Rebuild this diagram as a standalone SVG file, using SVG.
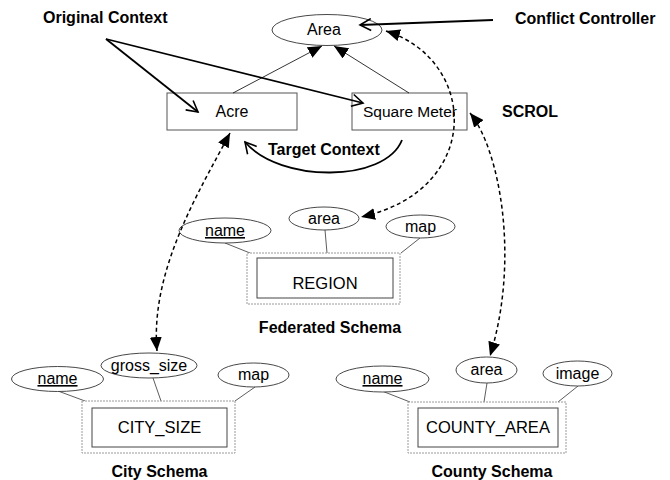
<svg xmlns="http://www.w3.org/2000/svg" width="670" height="480" viewBox="0 0 670 480">
<style>
text{font-family:"Liberation Sans",Arial,sans-serif;fill:#000}
.lbl{font-size:16px;font-weight:bold}
.n{font-size:16px;text-anchor:middle}
.ent{font-size:16.5px;text-anchor:middle}
.u{text-decoration:underline}
.ell{fill:#fff;stroke:#333;stroke-width:0.9}
.box{fill:#fff;stroke:#555;stroke-width:1}
.outer{fill:#fff;stroke:#9a9a9a;stroke-width:1;stroke-dasharray:2,1}
.inner{fill:#fff;stroke:#444;stroke-width:1}
.att{stroke:#333;stroke-width:0.8;fill:none}
.isa{stroke:#000;stroke-width:0.8;fill:none;marker-end:url(#fill)}
.ctx{stroke:#000;stroke-width:1.8;fill:none;marker-end:url(#open)}
.dash{stroke:#000;stroke-width:1.5;fill:none;stroke-dasharray:4,3;marker-start:url(#fill);marker-end:url(#fill)}
</style>
<defs>
<marker id="fill" markerUnits="userSpaceOnUse" markerWidth="14" markerHeight="12" viewBox="0 0 14 12" refX="14" refY="6" orient="auto-start-reverse">
<path d="M0,0 L14,6 L0,12 z" fill="#000"/>
</marker>
<marker id="open" markerUnits="userSpaceOnUse" markerWidth="14" markerHeight="14" viewBox="0 0 14 14" refX="12" refY="7" orient="auto">
<path d="M1,1 L12,7 L1,13" fill="none" stroke="#000" stroke-width="1.6"/>
</marker>
</defs>

<g id="area">
<ellipse class="ell" cx="327" cy="30" rx="55" ry="15.5"/>
<text class="n" x="324" y="35">Area</text>
</g>
<g id="acre">
<rect class="box" x="167" y="93" width="130" height="37"/>
<text class="n" x="232" y="117">Acre</text>
</g>
<g id="square-meter">
<rect class="box" x="352" y="93" width="115" height="37"/>
<text class="n" x="410" y="117" style="font-size:15.5px">Square Meter</text>
</g>

<g id="region">
<line class="att" x1="225" y1="243" x2="250" y2="253"/>
<line class="att" x1="325" y1="230" x2="327" y2="253"/>
<line class="att" x1="420" y1="238" x2="401" y2="253"/>
<rect class="outer" x="247" y="253" width="153" height="51"/>
<rect class="inner" x="257" y="258" width="136" height="40"/>
<text class="ent" x="325" y="289">REGION</text>
<ellipse class="ell" cx="225" cy="230.5" rx="46" ry="12.5"/>
<text class="n u" x="225" y="236">name</text>
<ellipse class="ell" cx="324" cy="218.5" rx="35" ry="11.5"/>
<text class="n" x="324" y="224">area</text>
<ellipse class="ell" cx="420.5" cy="226.5" rx="34.5" ry="11.5"/>
<text class="n" x="420.5" y="232">map</text>
</g>

<g id="city-size">
<line class="att" x1="58" y1="391" x2="85" y2="401"/>
<line class="att" x1="153" y1="378" x2="161" y2="401"/>
<line class="att" x1="255" y1="387" x2="235" y2="401"/>
<rect class="outer" x="82" y="401" width="153" height="52"/>
<rect class="inner" x="92" y="408" width="135" height="39"/>
<text class="ent" x="159.5" y="433">CITY_SIZE</text>
<ellipse class="ell" cx="57.5" cy="379" rx="46" ry="12.5"/>
<text class="n u" x="57.5" y="384">name</text>
<ellipse class="ell" cx="149" cy="365.5" rx="48" ry="12.5"/>
<text class="n" x="149" y="370.5">gross_size</text>
<ellipse class="ell" cx="253.5" cy="375" rx="35.5" ry="12"/>
<text class="n" x="253.5" y="380">map</text>
</g>

<g id="county-area">
<line class="att" x1="382" y1="391" x2="410" y2="402"/>
<line class="att" x1="487" y1="383" x2="484" y2="402"/>
<line class="att" x1="578" y1="386" x2="558" y2="402"/>
<rect class="outer" x="408" y="402" width="158" height="51"/>
<rect class="inner" x="418" y="408" width="140" height="39"/>
<text class="ent" x="488" y="433">COUNTY_AREA</text>
<ellipse class="ell" cx="382.5" cy="379" rx="46.5" ry="13"/>
<text class="n u" x="382.5" y="384">name</text>
<ellipse class="ell" cx="486.5" cy="370" rx="30.5" ry="13"/>
<text class="n" x="486.5" y="375">area</text>
<ellipse class="ell" cx="577.5" cy="373.5" rx="34.5" ry="12.5"/>
<text class="n" x="577.5" y="378.5">image</text>
</g>

<g id="connectors">
<line class="isa" x1="233" y1="93" x2="322" y2="46"/>
<line class="isa" x1="409" y1="93" x2="334" y2="46"/>
<line class="ctx" x1="106" y1="39" x2="198" y2="112"/>
<line class="ctx" x1="106" y1="39" x2="363" y2="103"/>
<line class="ctx" x1="493" y1="20" x2="360" y2="25"/>
<path class="ctx" d="M402,140 C385,183 280,183 245,142"/>
<path class="dash" d="M230,133 C200,190 150,270 157,351"/>
<path class="dash" d="M386,31 C478,60 484,190 361,217"/>
<path class="dash" d="M470,113 C500,150 520,260 490,356"/>
</g>

<g id="labels">
<text class="lbl" x="43" y="23">Original Context</text>
<text class="lbl" x="515" y="24">Conflict Controller</text>
<text class="lbl" x="502" y="117">SCROL</text>
<text class="lbl" x="268" y="155">Target Context</text>
<text class="lbl" x="330" y="333" text-anchor="middle">Federated Schema</text>
<text class="lbl" x="159.5" y="477" text-anchor="middle">City Schema</text>
<text class="lbl" x="492" y="477" text-anchor="middle">County Schema</text>
</g>
</svg>
